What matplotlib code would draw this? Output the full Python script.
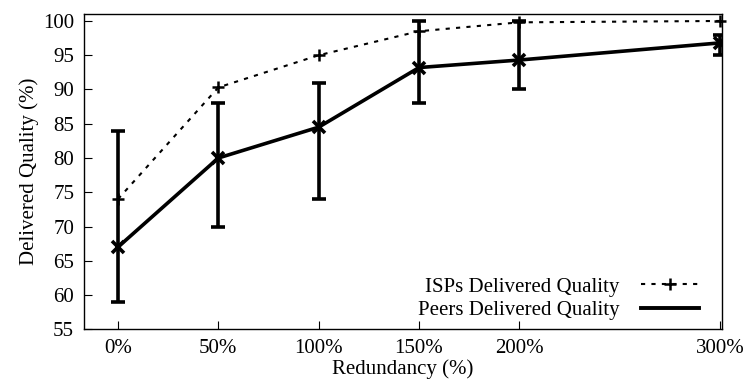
import matplotlib.pyplot as plt
from matplotlib.lines import Line2D

# Redundancy levels (%)
redundancy = [0, 50, 100, 150, 200, 300]
tick_labels = ["0%", "50%", "100%", "150%", "200%", "300%"]

# Delivered quality (%)
isp_quality = [74, 90.3, 95, 98.5, 99.8, 100]
peer_quality = [67, 80, 84.5, 93.2, 94.3, 96.8]
peer_low = [59, 70, 74, 88, 90, 95]
peer_high = [84, 88, 91, 100, 100, 98]

plt.rcParams["font.family"] = ["Liberation Serif", "DejaVu Serif"]
plt.rcParams["font.size"] = 15

fig, ax = plt.subplots(figsize=(7.49, 3.92), dpi=100)

yerr = [[q - lo for q, lo in zip(peer_quality, peer_low)],
        [hi - q for q, hi in zip(peer_quality, peer_high)]]

isp_style = dict(color="black", linestyle=(0, (2, 3)), linewidth=1.5)
ax.plot(redundancy, isp_quality, marker="+", markersize=9,
        markeredgewidth=1.8, clip_on=False, **isp_style)
ax.errorbar(redundancy, peer_quality, yerr=yerr, color="black",
            linewidth=2.6, marker="x", markersize=9, markeredgewidth=2.6,
            elinewidth=2.6, capsize=5, capthick=2.6)

ax.set_xlim(-17, 301)
ax.set_ylim(55, 101)
ax.set_xticks(redundancy)
ax.set_xticklabels(tick_labels)
ax.set_yticks(range(55, 101, 5))
ax.tick_params(direction="in", length=6, width=0.8, pad=7)
for s in ax.spines.values():
    s.set_linewidth(1.0)

ax.set_xlabel("Redundancy (%)", labelpad=1)
ax.set_ylabel("Delivered Quality (%)", labelpad=3)

handles = [
    Line2D([0, 1], [0, 0], marker="+", markersize=9, markeredgewidth=1.8,
           **isp_style),
    Line2D([0, 1], [0, 0], color="black", linewidth=2.8),
]
ax.legend(handles, ["ISPs Delivered Quality", "Peers Delivered Quality"],
          loc="lower right", frameon=False, markerfirst=False,
          handlelength=2.8, bbox_to_anchor=(0.977, 0.002),
          borderaxespad=0.0, labelspacing=0.2,
          handletextpad=1.0, numpoints=1)

plt.subplots_adjust(left=0.112, right=0.964, top=0.964, bottom=0.16)
plt.savefig("out.png")
